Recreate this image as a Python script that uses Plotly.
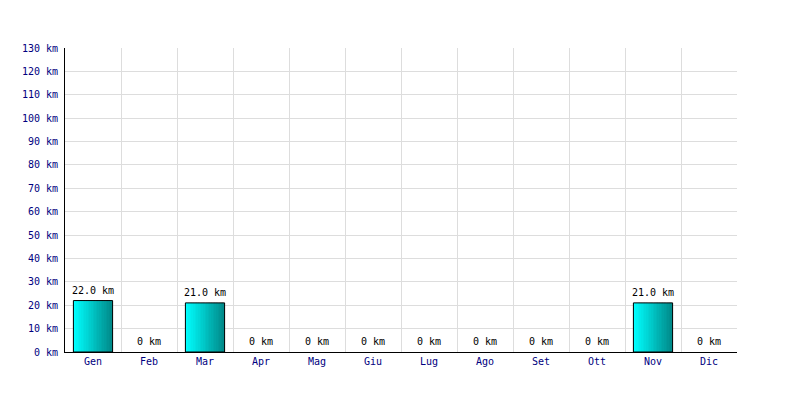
import plotly.graph_objects as go

months = ["Gen", "Feb", "Mar", "Apr", "Mag", "Giu", "Lug", "Ago", "Set", "Ott", "Nov", "Dic"]
km = [22.0, 0, 21.0, 0, 0, 0, 0, 0, 0, 0, 21.0, 0]
y_ticks = list(range(0, 131, 10))
y_tick_labels = [f"{v} km" for v in y_ticks]

labels = ["0 km" if v == 0 else f"{v:.1f} km" for v in km]
x = list(range(len(months)))

FONT = "DejaVu Sans Mono"
BAR_W = 0.7
N = 24
c0 = (0, 255, 255)
c1 = (0, 139, 139)

fig = go.Figure()
for i in range(N):
    t = i / (N - 1)
    col = tuple(round(a + (b - a) * t) for a, b in zip(c0, c1))
    fig.add_trace(go.Bar(
        x=x, y=km, width=BAR_W / N + 0.004, offset=-BAR_W / 2 + i * BAR_W / N,
        marker=dict(color=f"rgb{col}", line=dict(width=0)),
        showlegend=False, hoverinfo="skip",
    ))

fig.add_trace(go.Bar(
    x=x, y=km, width=BAR_W,
    marker=dict(color="rgba(0,0,0,0)",
                line=dict(color="black", width=[1 if v > 0 else 0 for v in km])),
    showlegend=False, hoverinfo="skip",
))

fig.add_trace(go.Scatter(
    x=x, y=km, mode="markers+text", text=labels, textposition="top center",
    marker=dict(size=5, color="rgba(0,0,0,0)"),
    textfont=dict(family=FONT, size=10, color="black"),
    cliponaxis=False, showlegend=False, hoverinfo="skip",
))

fig.update_layout(
    width=800, height=400,
    margin=dict(l=57, r=71, t=40, b=56, autoexpand=False),
    paper_bgcolor="white", plot_bgcolor="white",
    barmode="overlay",
    font=dict(family=FONT, size=10, color="#000080"),
    xaxis=dict(
        range=[-0.5, len(months) - 0.5],
        tickmode="array", tickvals=x, ticktext=months,
        showgrid=False, ticks="", zeroline=False,
        showline=True, linecolor="black", linewidth=1,
        tickfont=dict(family=FONT, size=10, color="#000080"),
        minor=dict(tickmode="linear", tick0=-0.5, dtick=1, showgrid=True,
                   gridcolor="#dddddd", gridwidth=1, ticks=""),
    ),
    yaxis=dict(
        range=[0, 130], tickmode="array", tickvals=y_ticks, ticktext=y_tick_labels,
        showgrid=True, gridcolor="#dddddd", gridwidth=1,
        ticks="", zeroline=False, showline=True, linecolor="black", linewidth=1,
        tickfont=dict(family=FONT, size=10, color="#000080"),
        ticklabelstandoff=4,
    ),
)

fig.write_html("out.html")
